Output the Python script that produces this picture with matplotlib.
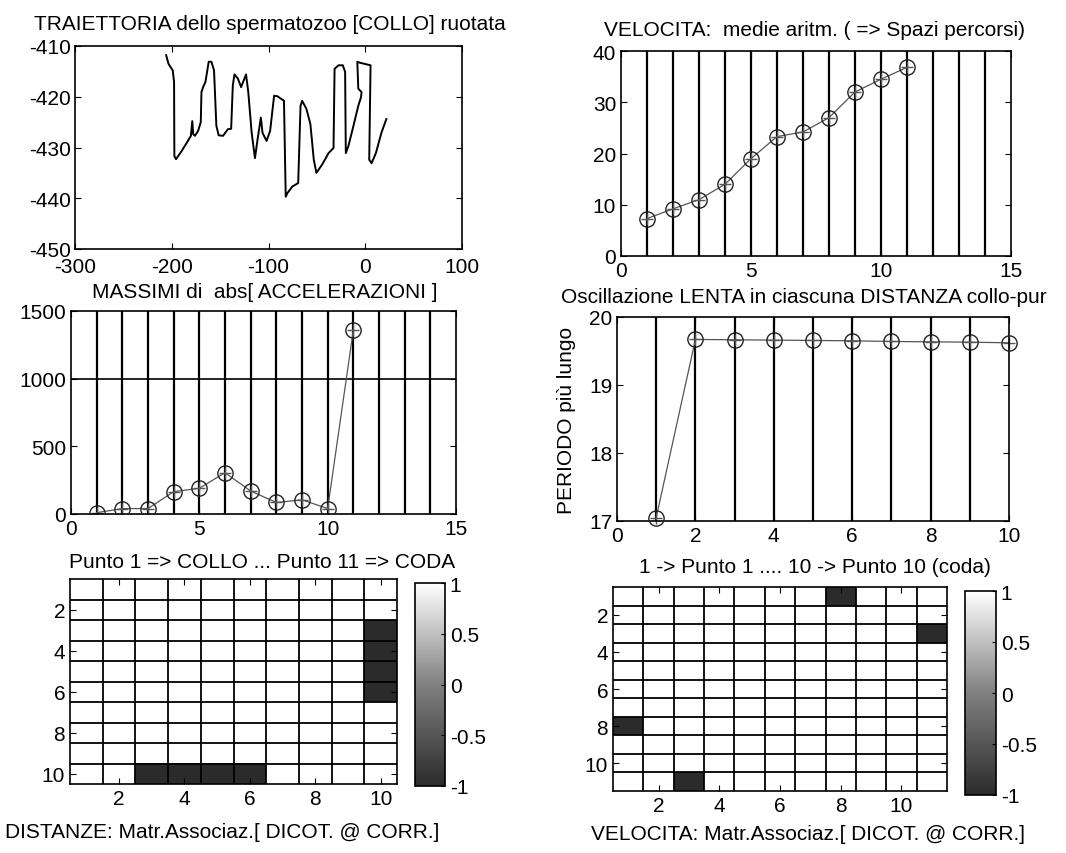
import numpy as np
import matplotlib
matplotlib.use("Agg")
import matplotlib.pyplot as plt
from matplotlib.colors import LinearSegmentedColormap

plt.rcParams['font.family'] = ['Liberation Sans', 'DejaVu Sans']
plt.rcParams['font.size'] = 15
plt.rcParams['axes.unicode_minus'] = False

# ---- data ----
traj_x = [-205.8, -203.4, -199.0, -197.6, -197.3, -195.6, -189.8, -184.6, -180.2, -178.8,
          -177.8, -176.0, -172.7, -170.0, -169.3, -167.6, -165.2, -161.8, -159.0, -156.3,
          -153.9, -151.5, -147.0, -142.0, -138.6, -136.9, -135.2, -131.7, -128.3, -123.2,
          -120.9, -117.4, -114.0, -111.3, -107.9, -106.2, -102.0, -98.3, -94.2, -90.8,
          -84.0, -82.2, -80.5, -75.4, -69.3, -66.9, -65.2, -60.8, -56.7, -53.2,
          -50.5, -44.7, -37.9, -32.8, -31.7, -27.6, -23.2, -20.8, -20.1, -17.4,
          -12.3, -7.2, -4.4, -3.8, -7.2, -8.2, -5.5, 5.5, 4.1, 6.5,
          11.0, 16.7, 21.8]
traj_y = [-411.8, -413.5, -414.8, -417.1, -431.7, -432.3, -430.7, -429.1, -427.7, -424.8,
          -427.4, -427.7, -426.7, -425.0, -419.1, -418.1, -417.1, -413.1, -413.1, -414.8,
          -425.7, -427.6, -427.7, -426.4, -426.3, -417.8, -415.6, -416.4, -418.1, -415.6,
          -419.1, -427.1, -432.1, -428.4, -424.1, -427.1, -428.7, -426.7, -419.8, -419.9,
          -420.8, -439.7, -439.0, -437.7, -437.0, -421.8, -420.8, -422.4, -425.4, -432.4,
          -435.0, -433.4, -431.1, -430.1, -414.5, -413.8, -413.8, -415.1, -431.1, -429.7,
          -425.8, -421.8, -420.1, -419.1, -418.4, -413.1, -413.3, -413.8, -432.4, -433.1,
          -431.1, -427.1, -424.4]

punti_vel = list(range(1, 12))
velocita = [7.3, 9.2, 11.0, 14.0, 19.0, 23.3, 24.2, 27.0, 32.0, 34.5, 36.8]

punti_acc = list(range(1, 12))
accelerazioni = [10, 40, 40, 165, 190, 305, 170, 85, 105, 40, 1360]

punti_per = list(range(1, 11))
periodo = [17.05, 19.67, 19.665, 19.66, 19.655, 19.65, 19.64, 19.635, 19.63, 19.62]

# association matrices (1 = associated/white, -1 = dark)
n_dist = 10
dist_neg = [(10, 3), (10, 4), (10, 5), (10, 6), (3, 10), (4, 10), (5, 10), (6, 10)]
n_vel = 11
vel_neg = [(1, 8), (8, 1), (3, 11), (11, 3)]

W, H = 1066, 854
fig = plt.figure(figsize=(W / 100, H / 100), dpi=100)
FS = 15


def ax_px(x0, y0, x1, y1):
    return fig.add_axes([x0 / W, 1 - y1 / H, (x1 - x0) / W, (y1 - y0) / H])


def style(ax):
    ax.tick_params(direction='in', top=True, right=True, length=4, width=0.8, labelsize=FS)
    for s in ax.spines.values():
        s.set_linewidth(1.2)


# ---- top-left: trajectory ----
ax1 = ax_px(75, 47, 462, 250)
ax1.plot(traj_x, traj_y, color='black', lw=1.4)
ax1.set_xlim(-300, 100)
ax1.set_ylim(-450, -410)
ax1.set_xticks([-300, -200, -100, 0, 100])
ax1.set_yticks([-450, -440, -430, -420, -410])
style(ax1)
ax1.tick_params(axis='x', pad=6)
ax1.tick_params(axis='y', pad=3)
fig.text(270 / W, 1 - 25 / H, 'TRAIETTORIA dello spermatozoo [COLLO] ruotata',
         ha='center', va='center', fontsize=FS)

# ---- top-right: velocity ----
ax2 = ax_px(621, 52, 1011, 257)
for xv in range(1, 15):
    ax2.axvline(xv, color='black', lw=1.6, zorder=1)
ax2.plot(punti_vel, velocita, color='#555555', lw=0.9, marker='+', ms=8, zorder=2)
ax2.plot(punti_vel, velocita, ls='none', marker='o', ms=11, mfc='none', mec='#222222', mew=1.0, zorder=3)
ax2.set_xlim(0, 15)
ax2.set_ylim(0, 40)
ax2.set_xticks([0, 5, 10, 15])
ax2.set_yticks([0, 10, 20, 30, 40])
style(ax2)
fig.text(815 / W, 1 - 30 / H, 'VELOCITA:  medie aritm. ( => Spazi percorsi)',
         ha='center', va='center', fontsize=FS)

# ---- middle-left: accelerations ----
ax3 = ax_px(71, 312, 456, 515)
for xv in range(1, 15):
    ax3.axvline(xv, color='black', lw=1.6, zorder=1)
ax3.axhline(1000, color='black', lw=1.2, zorder=1)
ax3.plot(punti_acc, accelerazioni, color='#555555', lw=0.9, marker='+', ms=8, zorder=2)
ax3.plot(punti_acc, accelerazioni, ls='none', marker='o', ms=11, mfc='none', mec='#222222', mew=1.0, zorder=3)
ax3.set_xlim(0, 15)
ax3.set_ylim(0, 1500)
ax3.set_xticks([0, 5, 10, 15])
ax3.set_yticks([0, 500, 1000, 1500])
style(ax3)
fig.text(265 / W, 1 - 293 / H, 'MASSIMI di  abs[ ACCELERAZIONI ]',
         ha='center', va='center', fontsize=FS)
fig.text(262 / W, 1 - 563 / H, 'Punto 1 => COLLO ... Punto 11 => CODA',
         ha='center', va='center', fontsize=FS)

# ---- middle-right: period ----
ax4 = ax_px(617, 318, 1009, 522)
for xv in range(1, 10):
    ax4.axvline(xv, color='black', lw=1.6, zorder=1)
ax4.plot(punti_per, periodo, color='#555555', lw=0.9, marker='+', ms=8, zorder=2, clip_on=False)
ax4.plot(punti_per, periodo, ls='none', marker='o', ms=11, mfc='none', mec='#222222', mew=1.0,
         zorder=3, clip_on=False)
ax4.set_xlim(0, 10)
ax4.set_ylim(17, 20)
ax4.set_xticks([0, 2, 4, 6, 8, 10])
ax4.set_yticks([17, 18, 19, 20])
style(ax4)
fig.text(567 / W, 1 - 420 / H, 'PERIODO più lungo', rotation=90,
         ha='center', va='center', fontsize=FS)
fig.text(804 / W, 1 - 298 / H, 'Oscillazione LENTA in ciascuna DISTANZA collo-pur',
         ha='center', va='center', fontsize=FS)
fig.text(815 / W, 1 - 568 / H, '1 -> Punto 1 .... 10 -> Punto 10 (coda)',
         ha='center', va='center', fontsize=FS)

# ---- bottom matrices ----
cmap = LinearSegmentedColormap.from_list('g', ['#2b2b2b', '#808080', '#ffffff'])


def matrix_plot(rect, cbrect, n, negs, label, lx, ly):
    M = np.ones((n, n))
    for r, c in negs:
        M[r - 1, c - 1] = -1
    ax = ax_px(*rect)
    im = ax.imshow(M, cmap=cmap, vmin=-1, vmax=1, aspect='auto',
                   extent=(0.5, n + 0.5, n + 0.5, 0.5), interpolation='nearest')
    for k in range(1, n):
        ax.axvline(k + 0.5, color='black', lw=1.3)
        ax.axhline(k + 0.5, color='black', lw=1.3)
    ax.set_xticks([2, 4, 6, 8, 10])
    ax.set_yticks([2, 4, 6, 8, 10])
    style(ax)
    cax = ax_px(*cbrect)
    cb = fig.colorbar(im, cax=cax, ticks=[-1, -0.5, 0, 0.5, 1])
    cb.ax.set_yticklabels(['-1', '-0.5', '0', '0.5', '1'])
    cb.ax.tick_params(direction='in', length=3, labelsize=FS)
    cb.outline.set_linewidth(1.2)
    fig.text(lx / W, 1 - ly / H, label, ha='center', va='center', fontsize=FS)


matrix_plot((70, 580, 397, 785), (415, 584, 445, 787), n_dist, dist_neg,
            'DISTANZE: Matr.Associaz.[ DICOT. @ CORR.]', 222, 833)
matrix_plot((613, 588, 947, 792), (965, 592, 996, 796), n_vel, vel_neg,
            'VELOCITA: Matr.Associaz.[ DICOT. @ CORR.]', 808, 835)

fig.savefig('out.png', dpi=100)
